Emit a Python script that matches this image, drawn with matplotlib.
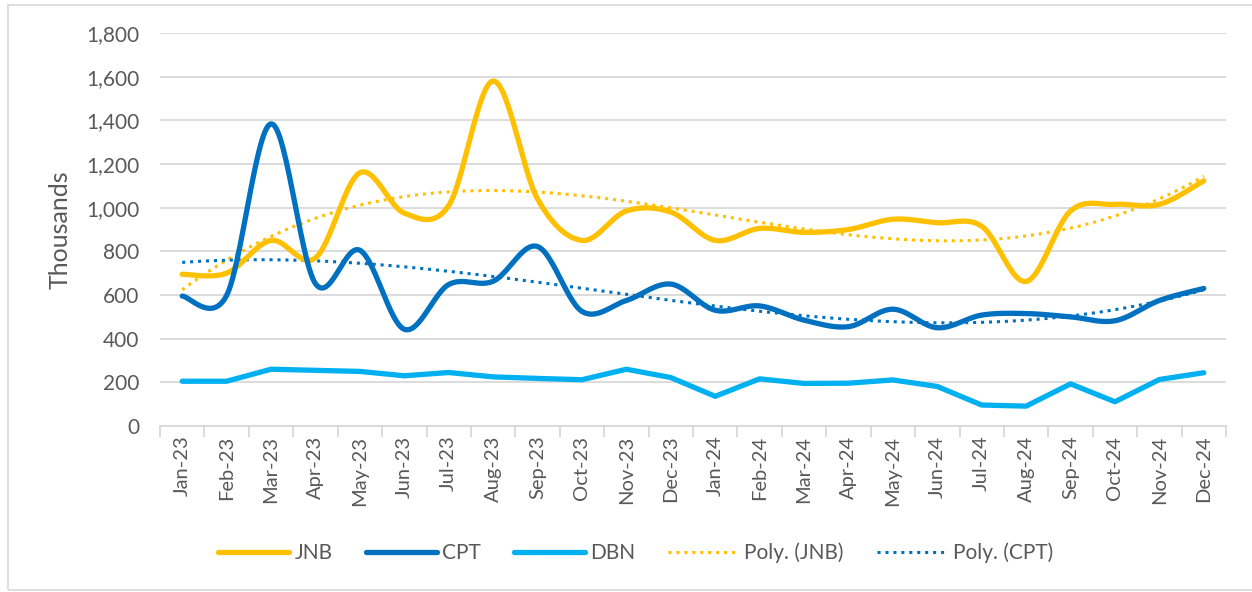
import numpy as np
import matplotlib
matplotlib.use("Agg")
import matplotlib.pyplot as plt
from matplotlib.patches import Rectangle

# Data (thousands)
months = ["Jan-23", "Feb-23", "Mar-23", "Apr-23", "May-23", "Jun-23", "Jul-23", "Aug-23",
          "Sep-23", "Oct-23", "Nov-23", "Dec-23", "Jan-24", "Feb-24", "Mar-24", "Apr-24",
          "May-24", "Jun-24", "Jul-24", "Aug-24", "Sep-24", "Oct-24", "Nov-24", "Dec-24"]
jnb = [695, 700, 850, 770, 1160, 975, 1010, 1580, 1040, 850, 985, 980,
       850, 905, 887, 900, 947, 931, 915, 662, 985, 1015, 1015, 1123]
cpt = [595, 598, 1384, 652, 805, 443, 648, 663, 822, 525, 575, 650,
       530, 550, 485, 455, 535, 450, 508, 515, 500, 482, 575, 630]
dbn = [205, 205, 260, 255, 250, 230, 245, 225, 218, 212, 260, 222,
       136, 216, 195, 196, 211, 181, 96, 91, 193, 111, 213, 244]
yticks = [0, 200, 400, 600, 800, 1000, 1200, 1400, 1600, 1800]

C_JNB = "#FFC000"
C_CPT = "#0070C0"
C_DBN = "#00B0F0"
GREY = "#595959"

plt.rcParams['font.family'] = ['Lato', 'DejaVu Sans']


def smooth(y, n=30):
    # Excel-style smoothed line: cubic bezier through each pair of points
    y = np.asarray(y, float)
    x = np.arange(len(y), dtype=float)
    P = np.column_stack([x, y])
    P = np.vstack([P[0], P, P[-1]])
    out = []
    t = np.linspace(0, 1, n)[:, None]
    for i in range(1, len(P) - 2):
        p0, p1 = P[i], P[i + 1]
        c1 = p0 + (P[i + 1] - P[i - 1]) / 6
        c2 = p1 - (P[i + 2] - P[i]) / 6
        seg = ((1 - t) ** 3) * p0 + 3 * ((1 - t) ** 2) * t * c1 + 3 * (1 - t) * t ** 2 * c2 + t ** 3 * p1
        out.append(seg if i == 1 else seg[1:])
    out = np.vstack(out)
    return out[:, 0], out[:, 1]


def trend(y, order=3):
    x = np.arange(1, len(y) + 1)
    c = np.polyfit(x, y, order)
    xs = np.linspace(1, len(y), 200)
    return xs - 1, np.polyval(c, xs)


fig = plt.figure(figsize=(12.52, 5.92), dpi=100)
ax = fig.add_axes([160 / 1252, 1 - 426 / 592, (1226 - 160) / 1252, (426 - 33) / 592])

x = np.arange(len(months))
lw = 3.8
l1, = ax.plot(*smooth(jnb), color=C_JNB, lw=lw, solid_capstyle="round", label="JNB", zorder=4)
l2, = ax.plot(*smooth(cpt), color=C_CPT, lw=lw, solid_capstyle="round", label="CPT", zorder=5)
l3, = ax.plot(x, dbn, color=C_DBN, lw=lw, solid_capstyle="round", solid_joinstyle="round", label="DBN", zorder=4)
t1, = ax.plot(*trend(jnb), color=C_JNB, lw=2.2, ls=(0, (1, 1.6)), label="Poly. (JNB)", zorder=3)
t2, = ax.plot(*trend(cpt), color=C_CPT, lw=2.2, ls=(0, (1, 1.6)), label="Poly. (CPT)", zorder=3)

ax.set_ylim(0, 1800)
ax.set_xlim(-0.5, len(months) - 0.5)
ax.set_yticks(yticks)
ax.set_yticklabels([f"{v:,}" for v in yticks], color=GREY, fontsize=15)
ax.yaxis.grid(True, color="#D9D9D9", lw=1.3)
ax.set_axisbelow(True)
ax.tick_params(axis="y", length=0, pad=15)

ax.set_xticks(x)
ax.set_xticklabels(months, rotation=90, color=GREY, fontsize=14.5)
ax.set_xticks(np.arange(-0.5, len(months)), minor=True)
ax.tick_params(axis="x", which="major", length=0, pad=7)
ax.tick_params(axis="x", which="minor", length=8, color="#D9D9D9", width=1.3)

for s in ["top", "right", "left"]:
    ax.spines[s].set_visible(False)
ax.spines["bottom"].set_color("#D9D9D9")
ax.spines["bottom"].set_linewidth(1.3)

ax.set_ylabel("Thousands", color=GREY, fontsize=18, labelpad=10)

fig.legend(handles=[l1, l2, l3, t1, t2], loc="center", ncol=5,
           bbox_to_anchor=(636 / 1252, 1 - 553 / 592), frameon=False,
           fontsize=15, labelcolor=GREY, handlelength=3.4, columnspacing=1.6,
           handletextpad=0.25)

fig.patches.append(Rectangle((8 / 1252, 0.003), 1.0, 1 - 5 / 592 - 0.003, transform=fig.transFigure,
                             fill=False, edgecolor="#D9D9D9", lw=1.2))

fig.savefig("out.png", dpi=100)
